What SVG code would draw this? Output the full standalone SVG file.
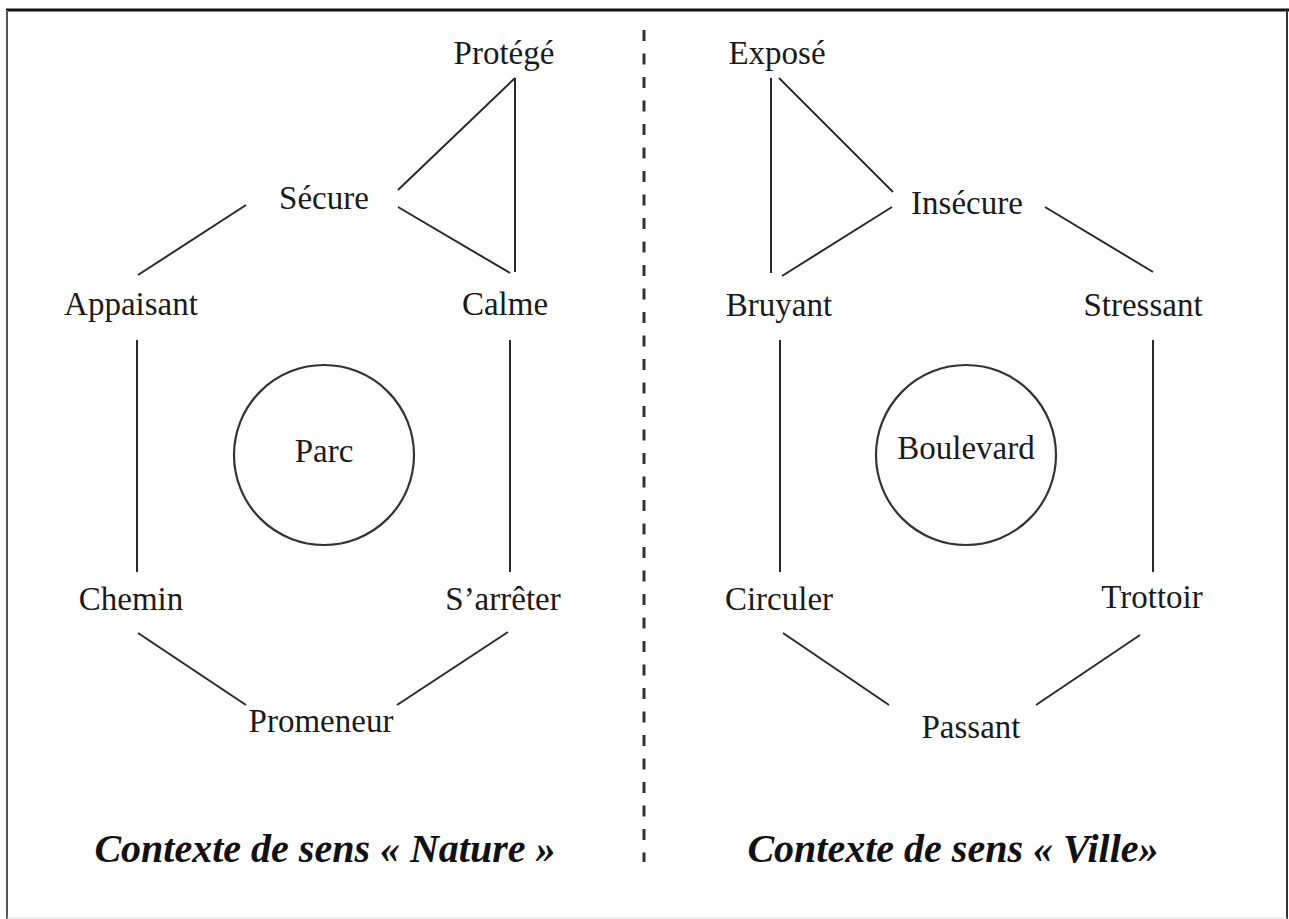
<svg xmlns="http://www.w3.org/2000/svg" width="1289" height="919" viewBox="0 0 1289 919">
<style>
.lbl{font-family:"Liberation Serif","Times New Roman",serif;font-size:33px;fill:#1a1a1a;text-anchor:middle}
.ttl{font-family:"Liberation Serif","Times New Roman",serif;font-size:40px;font-weight:bold;font-style:italic;fill:#111;text-anchor:middle}
.ln{stroke:#2a2a2a;stroke-width:2;fill:none}
.circ{stroke:#333;stroke-width:2.2;fill:none}
</style>
<rect x="0" y="0" width="1289" height="919" fill="#fff"/>
<g id="frame">
<line x1="6" y1="10" x2="1289" y2="10" stroke="#111" stroke-width="3"/>
<line x1="7" y1="10" x2="7" y2="919" stroke="#555" stroke-width="2"/>
<line x1="1287" y1="10" x2="1287" y2="919" stroke="#333" stroke-width="2"/>
<line x1="7" y1="918" x2="1287" y2="918" stroke="#ddd" stroke-width="1"/>
</g>
<g id="divider">
<line x1="644" y1="30" x2="644" y2="862" stroke="#333" stroke-width="3" stroke-dasharray="11 12.5"/>
</g>
<g id="connectors">
<line class="ln" x1="515" y1="78" x2="398" y2="190"/>
<line class="ln" x1="515" y1="78" x2="515" y2="272"/>
<line class="ln" x1="398" y1="207" x2="510" y2="273"/>
<line class="ln" x1="246" y1="205" x2="138" y2="275"/>
<line class="ln" x1="137" y1="340" x2="137" y2="572"/>
<line class="ln" x1="510" y1="340" x2="510" y2="572"/>
<line class="ln" x1="138" y1="633" x2="246" y2="705"/>
<line class="ln" x1="508" y1="632" x2="397" y2="705"/>
<line class="ln" x1="771" y1="78" x2="771" y2="273"/>
<line class="ln" x1="779" y1="78" x2="893" y2="192"/>
<line class="ln" x1="892" y1="207" x2="782" y2="276"/>
<line class="ln" x1="1045" y1="207" x2="1153" y2="272"/>
<line class="ln" x1="780" y1="340" x2="780" y2="572"/>
<line class="ln" x1="1153" y1="340" x2="1153" y2="572"/>
<line class="ln" x1="783" y1="633" x2="889" y2="705"/>
<line class="ln" x1="1140" y1="635" x2="1036" y2="705"/>
</g>
<g id="n-protege"><text class="lbl" x="504" y="64">Protégé</text></g>
<g id="n-secure"><text class="lbl" x="324" y="209">Sécure</text></g>
<g id="n-appaisant"><text class="lbl" x="131" y="315">Appaisant</text></g>
<g id="n-calme"><text class="lbl" x="505" y="315">Calme</text></g>
<g id="n-parc"><circle class="circ" cx="324" cy="455" r="90"/><text class="lbl" x="324" y="462">Parc</text></g>
<g id="n-chemin"><text class="lbl" x="131" y="610">Chemin</text></g>
<g id="n-sarreter"><text class="lbl" x="503" y="610">S’arrêter</text></g>
<g id="n-promeneur"><text class="lbl" x="321" y="732">Promeneur</text></g>
<g id="n-expose"><text class="lbl" x="777" y="64">Exposé</text></g>
<g id="n-insecure"><text class="lbl" x="967" y="214">Insécure</text></g>
<g id="n-bruyant"><text class="lbl" x="779" y="316">Bruyant</text></g>
<g id="n-stressant"><text class="lbl" x="1143" y="316">Stressant</text></g>
<g id="n-boulevard"><circle class="circ" cx="966" cy="455" r="90"/><text class="lbl" x="966" y="459">Boulevard</text></g>
<g id="n-circuler"><text class="lbl" x="779" y="610">Circuler</text></g>
<g id="n-trottoir"><text class="lbl" x="1152" y="608">Trottoir</text></g>
<g id="n-passant"><text class="lbl" x="971" y="738">Passant</text></g>
<g id="t-nature"><text class="ttl" x="325" y="862">Contexte de sens « Nature »</text></g>
<g id="t-ville"><text class="ttl" x="953" y="862">Contexte de sens « Ville»</text></g>
</svg>
